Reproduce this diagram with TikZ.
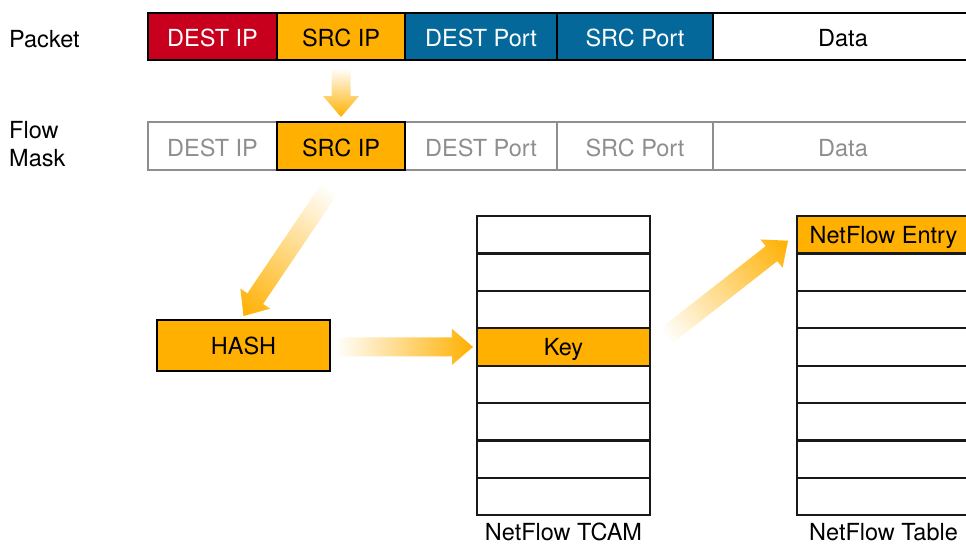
\documentclass[tikz,border=0pt]{standalone}
\usepackage{fontspec}
\setmainfont{TeX Gyre Heros}
\usetikzlibrary{positioning,calc}

\definecolor{nfgold}{HTML}{FFB000}
\definecolor{nfred}{HTML}{C8001E}
\definecolor{nfblue}{HTML}{05689B}
\definecolor{nfgray}{HTML}{8E8E8E}

\tikzset{
  txt/.style={font=\fontsize{23.5}{28}\selectfont},
  field/.style={txt, draw=black, line width=2pt, minimum height=47,
    inner sep=0pt, outer sep=0pt, text height=20pt, text depth=0pt},
  maskfield/.style={field, draw=nfgray, line width=1.6pt, text=nfgray,
    minimum height=48},
  rowcell/.style={txt, draw=black!90, line width=2.2pt, minimum width=173,
    minimum height=37.4, inner sep=0pt, outer sep=0pt,
    text height=17pt, text depth=0pt},
  lbl/.style={txt, inner sep=0pt, align=left}
}

% fading block arrow from #1 to #2
\newcommand{\flowarrow}[2]{%
  \path let \p1=(#1), \p2=(#2) in \pgfextra{%
    \pgfmathparse{atan2(\y2-\y1,\x2-\x1)}\xdef\arrang{\pgfmathresult}%
    \pgfmathparse{veclen(\x2-\x1,\y2-\y1)}\xdef\arrlen{\pgfmathresult}%
    \pgfmathparse{\arrlen-21}\xdef\arrbase{\pgfmathresult}};
  \begin{scope}[transform canvas={shift={(#1)},rotate=\arrang}]
    \shade[left color=white, middle color=nfgold!70, right color=nfgold]
      (0pt,-9.5pt) -- (\arrbase pt,-9.5pt) -- (\arrbase pt,-18pt)
      -- (\arrlen pt,0pt) -- (\arrbase pt,18pt) -- (\arrbase pt,9.5pt)
      -- (0pt,9.5pt) -- cycle;
  \end{scope}}

\begin{document}
\begin{tikzpicture}[x=1pt, y=-1pt]
  \useasboundingbox (0,0) rectangle (966,544);
  \clip (0,0) rectangle (966,544);

  % Packet
  \node[lbl, anchor=west] (lpacket) at (9,39) {Packet};
  \node[field, fill=nfred, text=white, minimum width=129, anchor=north west]
    (pdst) at (148,13) {DEST IP};
  \node[field, fill=nfgold, minimum width=128, right=0pt of pdst] (psrc) {SRC IP};
  \node[field, fill=nfblue, text=white, minimum width=152, right=0pt of psrc]
    (pdport) {DEST Port};
  \node[field, fill=nfblue, text=white, minimum width=156, right=0pt of pdport]
    (psport) {SRC Port};
  \node[field, fill=white, minimum width=260, right=0pt of psport] (pdata) {Data};

  % Flow mask
  \node[lbl, anchor=west] (lmask) at (9,144) {Flow\\Mask};
  \node[maskfield, minimum width=129, anchor=north west] (mdst) at (148,122) {DEST IP};
  \node[maskfield, fill=nfgold, text=black, minimum width=128, right=0pt of mdst]
    (msrc) {SRC IP};
  \node[maskfield, minimum width=152, right=0pt of msrc] (mdport) {DEST Port};
  \node[maskfield, minimum width=156, right=0pt of mdport] (msport) {SRC Port};
  \node[maskfield, minimum width=260, right=0pt of msport] (mdata) {Data};
  \draw[line width=2pt] (msrc.south west) rectangle (msrc.north east);

  % Hash
  \node[field, fill=nfgold, minimum width=173, minimum height=51,
    text height=17pt, anchor=north west] (hash) at (157,320) {HASH};

  % TCAM and table
  \foreach \i/\t/\c in {1//white,2//white,3//white,4/Key/nfgold,
                        5//white,6//white,7//white,8//white}
    \node[rowcell, fill=\c] (tcam\i) at (563.5,{216+37.4*(\i-0.5)}) {\t};
  \foreach \i/\t/\c in {1/NetFlow Entry/nfgold,2//white,3//white,4//white,
                        5//white,6//white,7//white,8//white}
    \node[rowcell, fill=\c] (nft\i) at (883.5,{216+37.4*(\i-0.5)}) {\t};

  \node[lbl, anchor=base] (ltcam) at ([yshift=-25.5pt]tcam8.south) {NetFlow TCAM};
  \node[lbl, anchor=base] (ltable) at ([yshift=-25.5pt]nft8.south) {NetFlow Table};

  % Arrows
  \flowarrow{[shift={(0,8)}]psrc.south}{[shift={(0,-5)}]msrc.north}
  \flowarrow{[shift={(-11,18)}]msrc.south}{[shift={(0,-4)}]hash.north}
  \flowarrow{[shift={(5,1.5)}]hash.east}{[shift={(-4,0)}]tcam4.west}
  \flowarrow{[shift={(15,-10)}]tcam4.east}{[shift={(-9,6)}]nft1.west}
\end{tikzpicture}
\end{document}
